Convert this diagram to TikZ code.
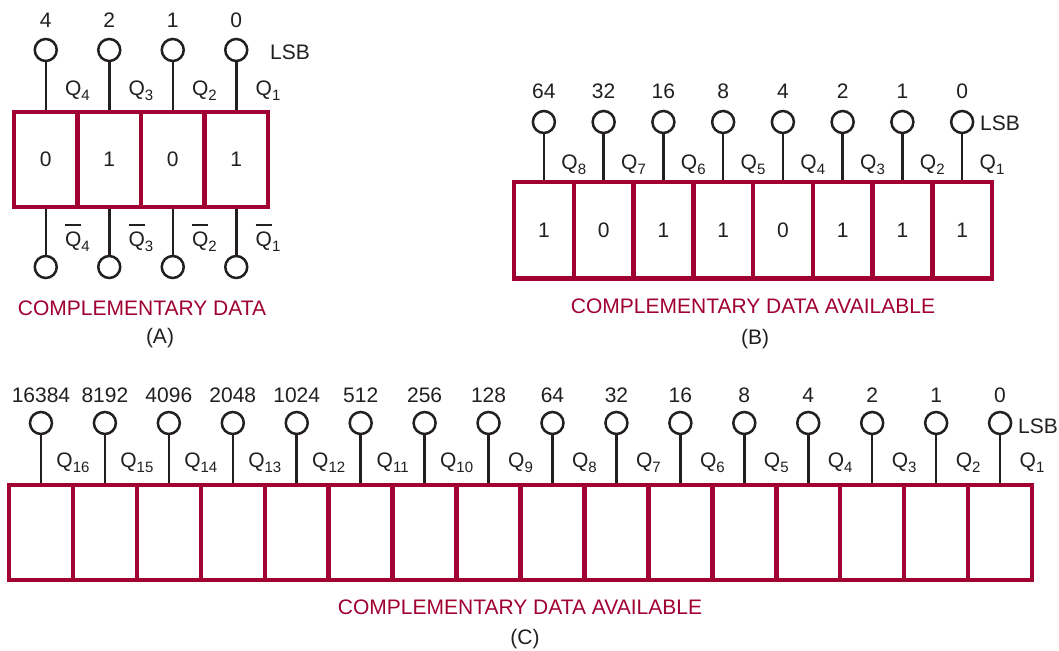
\documentclass[tikz,border=0pt]{standalone}
\usepackage{fontspec}
\setmainfont{Liberation Sans}
\definecolor{reg}{RGB}{160,0,50}
\definecolor{ink}{RGB}{35,31,32}
\newcommand{\Qs}[1]{Q\raisebox{-5pt}{\fontsize{15}{17}\selectfont #1}}
\newcommand{\Qb}[1]{\rlap{\rule[20.5pt]{16pt}{1.4pt}}Q\raisebox{-5pt}{\fontsize{15}{17}\selectfont #1}}
\tikzset{
  cell/.style={draw=reg, line width=4.5pt, minimum width=#1, inner sep=0pt,
               font=\fontsize{21}{25}\selectfont, text=ink},
  pin/.style={draw=ink, line width=2.5pt, circle, minimum size=22pt, inner sep=0pt},
  lead/.style={draw=ink, line width=2.5pt},
  lbl/.style={inner sep=0pt, anchor=base, font=\fontsize{21}{25}\selectfont, text=ink},
  captxt/.style={lbl, text=reg},
}
\begin{document}
\begin{tikzpicture}[x=1pt,y=-1pt]
\useasboundingbox[fill=white] (0,0) rectangle (1059,650);
% ---------- (A) ----------
\foreach \k/\v/\n/\q in {1/0/4/4, 2/1/2/3, 3/0/1/2, 4/1/0/1} {
  \pgfmathsetmacro\cx{45.75+63.5*(\k-1)}
  \pgfmathsetmacro\qx{14+63.5*\k}
  \node[cell=63.5pt, minimum height=95pt] (a\k) at (\cx,159.5) {\v};
  \node[pin] (at\k) at (\cx,50) {};
  \node[pin] (ab\k) at (\cx,267) {};
  \draw[lead] (at\k) -- (a\k);
  \draw[lead] (a\k) -- (ab\k);
  \node[lbl] (an\k) at (\cx,28) {\n};
  \node[lbl] (aq\k) at (\qx,96) {\Qs{\q}};
  \node[lbl] (aqb\k) at (\qx,246) {\Qb{\q}};
}
\node[lbl] (alsb) at (290,60) {LSB};
\node[captxt] (acap) at (142,315) {COMPLEMENTARY DATA};
\node[lbl] (atag) at (160,343) {(A)};
% ---------- (B) ----------
\foreach \k/\v/\n in {1/1/64, 2/0/32, 3/1/16, 4/1/8, 5/0/4, 6/1/2, 7/1/1, 8/1/0} {
  \pgfmathsetmacro\cx{543.875+59.75*(\k-1)}
  \pgfmathsetmacro\qx{514+59.75*\k}
  \pgfmathtruncatemacro\q{9-\k}
  \node[cell=59.75pt, minimum height=96.7pt] (b\k) at (\cx,230.3) {\v};
  \node[pin] (bt\k) at (\cx,122) {};
  \draw[lead] (bt\k) -- (b\k);
  \node[lbl] (bn\k) at (\cx,99) {\n};
  \node[lbl] (bq\k) at (\qx,169) {\Qs{\q}};
}
\node[lbl] (blsb) at (1000,130) {LSB};
\node[captxt] (bcap) at (753,313) {COMPLEMENTARY DATA AVAILABLE};
\node[lbl] (btag) at (755,344) {(B)};
% ---------- (C) ----------
\foreach \k/\n in {1/16384, 2/8192, 3/4096, 4/2048, 5/1024, 6/512, 7/256, 8/128,
                   9/64, 10/32, 11/16, 12/8, 13/4, 14/2, 15/1, 16/0} {
  \pgfmathsetmacro\cx{40.97+63.94*(\k-1)}
  \pgfmathsetmacro\qx{9+63.94*\k}
  \pgfmathtruncatemacro\q{17-\k}
  \node[cell=63.94pt, minimum height=95pt] (c\k) at (\cx,532.5) {};
  \node[pin] (ct\k) at (\cx,423) {};
  \draw[lead] (ct\k) -- (c\k);
  \node[lbl] (cn\k) at (\cx,402) {\n};
  \node[lbl] (cq\k) at (\qx,467) {\Qs{\q}};
}
\node[lbl] (clsb) at (1038,433) {LSB};
\node[captxt] (ccap) at (520,614) {COMPLEMENTARY DATA AVAILABLE};
\node[lbl] (ctag) at (525,644) {(C)};
\end{tikzpicture}
\end{document}
